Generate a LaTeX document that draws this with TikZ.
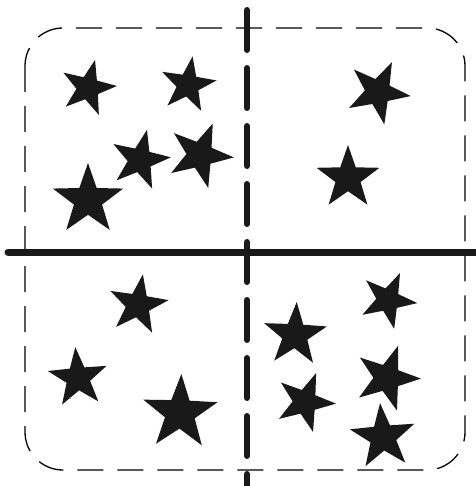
\documentclass[tikz,border=0pt]{standalone}
\usepackage{tikz}
\usetikzlibrary{shapes.geometric}

\begin{document}
\begin{tikzpicture}[x=1pt,y=-1pt,
  starmark/.style={star,star points=5,star point ratio=2.5,fill=black!90,inner sep=0pt},
  frame/.style={line width=1.3pt,dash pattern=on 26pt off 14pt,rounded corners=38pt},
  axis/.style={line width=7pt,line cap=round,black!90}]
  \useasboundingbox (0,0) rectangle (475,486);
  % Dashed frame and the two dividing lines
  \draw[frame] (25,28) rectangle (465,470);
  \coordinate (hl) at (8,252);
  \coordinate (hr) at (478,252);
  \coordinate (vt) at (247,10);
  \coordinate (vb) at (247,490);
  \draw[axis] (hl) -- (hr);
  \draw[axis,line width=6pt,dash pattern=on 40pt off 18pt] (vt) -- (vb);
  % Top-left quadrant
  \node[starmark,minimum size=58pt,rotate=-14] (s1) at (88,88) {};
  \node[starmark,minimum size=58pt,rotate=-9] (s2) at (188,85) {};
  \node[starmark,minimum size=62pt,rotate=-13] (s3) at (140,160) {};
  \node[starmark,minimum size=68pt,rotate=-22] (s4) at (200,155) {};
  \node[starmark,minimum size=74pt,rotate=0] (s5) at (88,200) {};
  % Top-right quadrant
  \node[starmark,minimum size=66pt,rotate=-25] (s6) at (378,92) {};
  \node[starmark,minimum size=66pt,rotate=0] (s7) at (348,178) {};
  % Bottom-left quadrant
  \node[starmark,minimum size=62pt,rotate=-9] (s8) at (138,305) {};
  \node[starmark,minimum size=62pt,rotate=5] (s9) at (78,378) {};
  \node[starmark,minimum size=78pt,rotate=-2] (s10) at (180,413) {};
  % Bottom-right quadrant
  \node[starmark,minimum size=59pt,rotate=-24] (s11) at (388,300) {};
  \node[starmark,minimum size=66pt,rotate=-3] (s12) at (295,335) {};
  \node[starmark,minimum size=68pt,rotate=-19] (s13) at (387,378) {};
  \node[starmark,minimum size=62pt,rotate=-21] (s14) at (305,402) {};
  \node[starmark,minimum size=68pt,rotate=5] (s15) at (383,437) {};
\end{tikzpicture}
\end{document}
